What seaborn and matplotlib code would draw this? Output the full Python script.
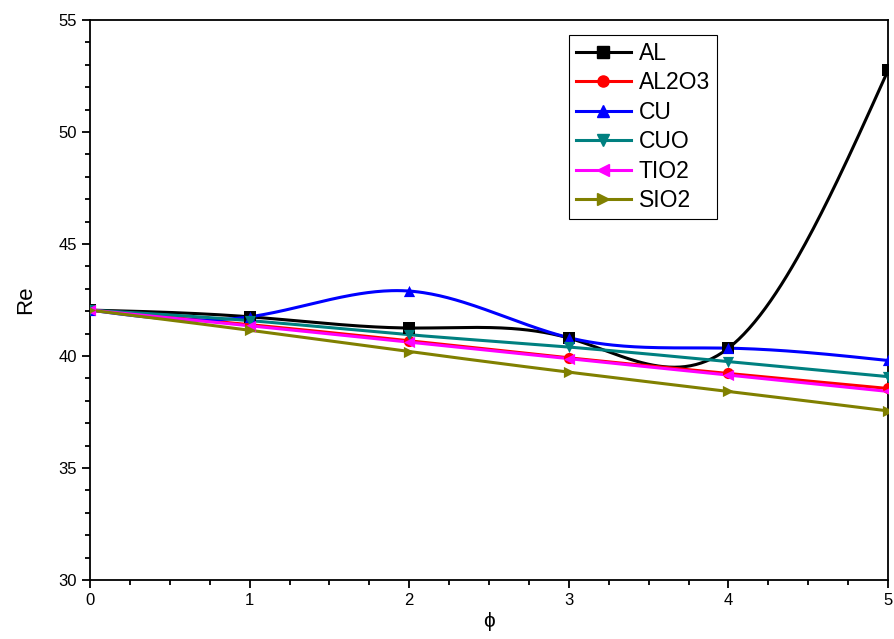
import numpy as np
import pandas as pd
import seaborn as sns
import matplotlib.pyplot as plt
from matplotlib.lines import Line2D
from matplotlib.ticker import MultipleLocator

phi = [0, 1, 2, 3, 4, 5]
re_al = [42.05, 41.75, 41.25, 40.8, 40.35, 52.75]
re_al2o3 = [42.05, 41.4, 40.68, 39.92, 39.22, 38.55]
re_cu = [42.05, 41.75, 42.9, 40.82, 40.35, 39.8]
re_cuo = [42.05, 41.58, 40.95, 40.4, 39.75, 39.08]
re_tio2 = [42.05, 41.35, 40.62, 39.88, 39.15, 38.42]
re_sio2 = [42.05, 41.15, 40.2, 39.28, 38.42, 37.55]

names = ['AL', 'AL2O3', 'CU', 'CUO', 'TIO2', 'SIO2']
series = [re_al, re_al2o3, re_cu, re_cuo, re_tio2, re_sio2]
colors = ['black', 'red', 'blue', '#008080', 'magenta', '#808000']
markers = ['s', 'o', '^', 'v', '<', '>']


def natural_spline(x, y, n=300):
    # natural cubic spline through the points (like the smoothed Origin lines)
    x = np.asarray(x, float)
    y = np.asarray(y, float)
    k = len(x)
    h = np.diff(x)
    A = np.zeros((k, k))
    b = np.zeros(k)
    A[0, 0] = A[-1, -1] = 1
    for i in range(1, k - 1):
        A[i, i - 1] = h[i - 1]
        A[i, i] = 2 * (h[i - 1] + h[i])
        A[i, i + 1] = h[i]
        b[i] = 3 * ((y[i + 1] - y[i]) / h[i] - (y[i] - y[i - 1]) / h[i - 1])
    c = np.linalg.solve(A, b)
    xs = np.linspace(x[0], x[-1], n)
    ys = np.empty_like(xs)
    for j, xv in enumerate(xs):
        i = min(np.searchsorted(x, xv, side='right') - 1, k - 2)
        d = xv - x[i]
        bi = (y[i + 1] - y[i]) / h[i] - h[i] * (2 * c[i] + c[i + 1]) / 3
        di = (c[i + 1] - c[i]) / (3 * h[i])
        ys[j] = y[i] + bi * d + c[i] * d ** 2 + di * d ** 3
    return xs, ys


plt.rcParams['font.family'] = ['Liberation Sans', 'DejaVu Sans']

fig = plt.figure(figsize=(8.94, 6.39), dpi=100)
ax = fig.add_axes([0.1007, 0.0923, 0.8926, 0.8764])

for name, vals, col, mk in zip(names, series, colors, markers):
    xs, ys = natural_spline(phi, vals)
    sns.lineplot(x=xs, y=ys, ax=ax, color=col, linewidth=2.2, zorder=2)
    pts = pd.DataFrame({'phi': phi, 're': vals})
    sns.scatterplot(data=pts, x='phi', y='re', ax=ax, color=col, marker=mk,
                    s=65, edgecolor=col, linewidth=0, zorder=3)

ax.set_xlim(0, 5)
ax.set_ylim(30, 55)
ax.xaxis.set_major_locator(MultipleLocator(1))
ax.xaxis.set_minor_locator(MultipleLocator(0.25))
ax.yaxis.set_major_locator(MultipleLocator(5))
ax.yaxis.set_minor_locator(MultipleLocator(1))
ax.tick_params(which='major', direction='out', length=6, width=1.3, labelsize=12)
ax.tick_params(which='minor', direction='out', length=3.5, width=1.3)
for sp in ax.spines.values():
    sp.set_linewidth(1.3)

ax.set_xlabel('ϕ', fontsize=15, labelpad=3)
ax.set_ylabel('Re', fontsize=16, labelpad=16)

handles = [Line2D([0], [0], color=c, marker=m, lw=2.2, markersize=8)
           for c, m in zip(colors, markers)]
leg = ax.legend(handles, names, loc='upper left', bbox_to_anchor=(0.6, 0.973),
                fontsize=16.5, frameon=True, fancybox=False, framealpha=1,
                edgecolor='black', handlelength=2.4, handletextpad=0.35,
                labelspacing=0.28, borderpad=0.3, borderaxespad=0)
leg.get_frame().set_linewidth(0.8)

fig.savefig('out.png', dpi=100)
